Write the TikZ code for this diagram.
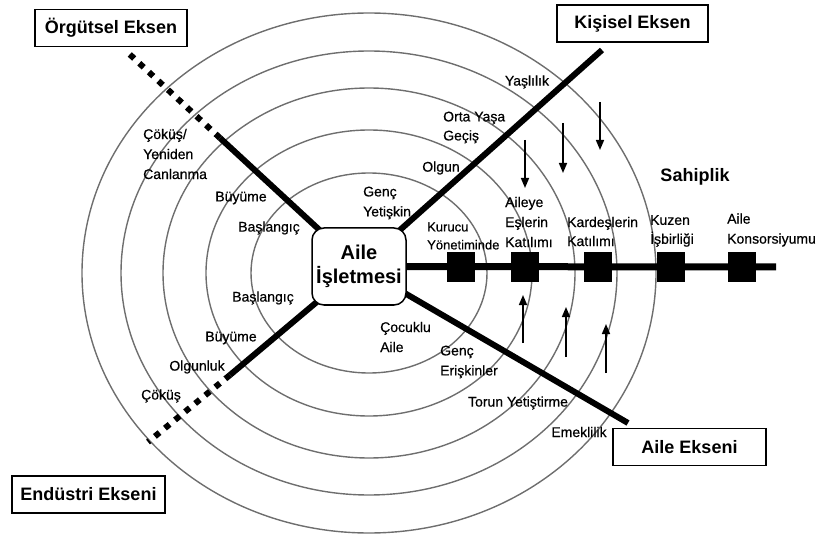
\documentclass[tikz,border=0pt]{standalone}
\usepackage{fontspec}
\setmainfont{Liberation Sans}
\newfontfamily\lblfont[FakeBold=0.5]{Liberation Sans}
\usetikzlibrary{arrows.meta,backgrounds}
\definecolor{ringgray}{HTML}{6E6E6E}
\tikzset{
  ring/.style={draw=ringgray,line width=1.4pt},
  axisline/.style={line width=6pt,line cap=butt},
  dotline/.style={line width=6pt,dash pattern=on 6pt off 7pt},
  axisbox/.style={draw,line width=1.5pt,minimum height=37pt,inner sep=0pt,font=\fontsize{18}{20}\selectfont\bfseries},
  lbl/.style={font=\lblfont\fontsize{14}{20}\selectfont,inner sep=0pt,align=left},
  sq/.style={fill=black,minimum width=28pt,minimum height=30pt,inner sep=0pt},
  flow/.style={line width=1.6pt,-{Triangle[length=10pt,width=8pt]}}
}
\begin{document}
\begin{tikzpicture}[x=1pt,y=-1pt]
\useasboundingbox (0,0) rectangle (819,545);
% center node
\node[draw,line width=1.5pt,fill=white,rounded corners=12pt,minimum width=94pt,minimum height=77pt,inner sep=0pt,align=center,font=\fontsize{20}{24}\selectfont\bfseries] (ai) at (359,266.5) {Aile\\İşletmesi};
% free ends
\coordinate (orgmid) at (220,138);
\coordinate (orgend) at (125,50);
\coordinate (kisend) at (602,50);
\coordinate (aileend) at (628,423);
\coordinate (endmid) at (230,375);
\coordinate (endend) at (148,442);
\coordinate (sahend) at (776,267);
\coordinate (ctr) at (369,273);
\begin{scope}[on background layer]
  \foreach \rx/\ry in {118/100,163/143,206/185,248/222,287/260}
    \draw[ring] (ctr) ellipse [x radius=\rx pt, y radius=\ry pt];
  \draw[axisline] (ai.center) -- (orgmid);
  \draw[dotline] (orgmid) -- (orgend);
  \draw[axisline] (ai.center) -- (kisend);
  \draw[axisline] (ai.center) -- (aileend);
  \draw[axisline] (ai.center) -- (endmid);
  \draw[dotline] (endmid) -- (endend);
  \draw[line width=7pt] (ai.center) -- (sahend);
\end{scope}
% squares
\node[sq] (s1) at (461,267) {};
\node[sq] (s2) at (525,267) {};
\node[sq] (s3) at (598,267) {};
\node[sq] (s4) at (671,267) {};
\node[sq] (s5) at (742,267) {};
% arrows
\coordinate (d1a) at (525,140); \coordinate (d1b) at (525,188);
\coordinate (d2a) at (563,123); \coordinate (d2b) at (563,173);
\coordinate (d3a) at (600,102); \coordinate (d3b) at (600,150);
\coordinate (u1a) at (523,343); \coordinate (u1b) at (523,295);
\coordinate (u2a) at (566,357); \coordinate (u2b) at (566,307);
\coordinate (u3a) at (606,373); \coordinate (u3b) at (606,324);
\draw[flow] (d1a) -- (d1b);
\draw[flow] (d2a) -- (d2b);
\draw[flow] (d3a) -- (d3b);
\draw[flow] (u1a) -- (u1b);
\draw[flow] (u2a) -- (u2b);
\draw[flow] (u3a) -- (u3b);
% axis boxes
\node[axisbox,minimum width=152pt] (borg) at (111,28) {Örgütsel Eksen};
\node[axisbox,minimum width=151pt] (bkis) at (632.5,23.5) {Kişisel Eksen};
\node[axisbox,minimum width=153pt] (baile) at (689.5,447) {Aile Ekseni};
\node[axisbox,minimum width=153pt] (bend) at (88.5,494.5) {Endüstri Ekseni};
\node[font=\fontsize{18}{20}\selectfont\bfseries,inner sep=0pt] (sah) at (695,177) {Sahiplik};
% labels
\node[lbl,anchor=west] (l1) at (143,154) {Çöküş/\\Yeniden\\Canlanma};
\node[lbl] (l2) at (241,198) {Büyüme};
\node[lbl] (l3) at (269,228) {Başlangıç};
\node[lbl,anchor=west] (l4) at (363,203) {Genç\\Yetişkin};
\node[lbl] (l5) at (441,168) {Olgun};
\node[lbl,anchor=west,font=\lblfont\fontsize{14}{19}\selectfont] (l6) at (443,127.5) {Orta Yaşa\\Geçiş};
\node[lbl] (l7) at (527,82) {Yaşlılık};
\node[lbl,anchor=west,font=\lblfont\fontsize{13}{18}\selectfont] (l8) at (427,236) {Kurucu\\Yönetiminde};
\node[lbl,anchor=west] (l9) at (505,222) {Aileye\\Eşlerin\\Katılımı};
\node[lbl,anchor=west,font=\lblfont\fontsize{14}{19}\selectfont] (l10) at (567,231.5) {Kardeşlerin\\Katılımı};
\node[lbl,anchor=west,font=\lblfont\fontsize{14}{19}\selectfont] (l11) at (650,231) {Kuzen\\İşbirliği};
\node[lbl,anchor=west] (l12) at (727,230) {Aile\\Konsorsiyumu};
\node[lbl] (l13) at (263,298) {Başlangıç};
\node[lbl] (l14) at (231,338) {Büyüme};
\node[lbl] (l15) at (197,367) {Olgunluk};
\node[lbl] (l16) at (161,396) {Çöküş};
\node[lbl,anchor=west] (l17) at (380,337) {Çocuklu\\Aile};
\node[lbl,anchor=west] (l18) at (440,362) {Genç\\Erişkinler};
\node[lbl] (l19) at (518,403) {Torun Yetiştirme};
\node[lbl] (l20) at (579,432) {Emeklilik};
\end{tikzpicture}
\end{document}
